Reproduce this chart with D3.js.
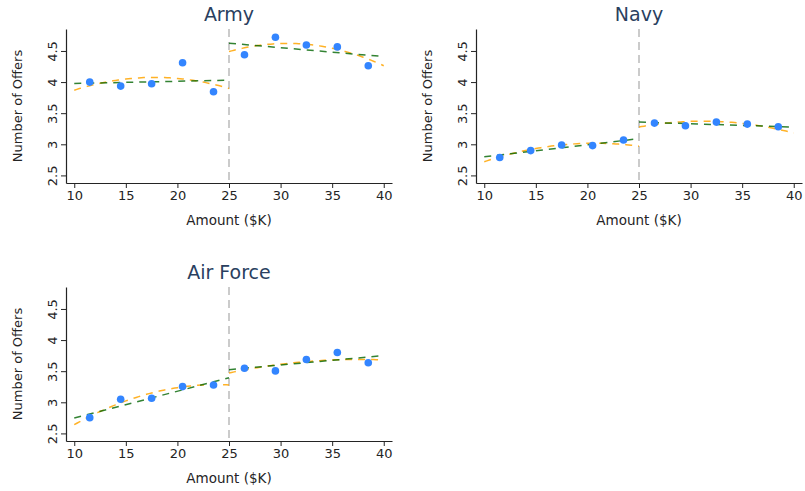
<!DOCTYPE html>
<html>
<head>
<meta charset="utf-8">
<script src="https://cdn.jsdelivr.net/npm/d3@7"></script>
<style>
  html, body { margin: 0; padding: 0; background: #fff; }
  svg { display: block; font-family: "DejaVu Sans", Verdana, sans-serif; }
</style>
</head>
<body>
<svg id="chart" width="805" height="491"></svg>
<script>
// ---- data ----
const panelNames = ["Army", "Navy", "Air Force"];
const bins = [11.5, 14.5, 17.5, 20.5, 23.5, 26.5, 29.5, 32.5, 35.5, 38.5];
const armyOffers    = [4.00, 3.935, 3.973, 4.31, 3.844, 4.44, 4.72, 4.597, 4.565, 4.263];
const navyOffers    = [2.787, 2.899, 2.989, 2.979, 3.069, 3.341, 3.299, 3.357, 3.325, 3.283];
const airForceOffers= [2.753, 3.048, 3.064, 3.252, 3.279, 3.548, 3.505, 3.688, 3.80, 3.635];

// linear fit values at segment ends: [left@10, left@25, right@25, right@40]
const armyLinear     = [3.978, 4.03, 4.624, 4.41];
const navyLinear     = [2.80, 3.09, 3.357, 3.277];
const airForceLinear = [2.748, 3.393, 3.525, 3.75];

// quadratic fit values at segment start, middle, end: left (10,17.5,25), right (25,32.5,40)
const armyQuadL = [3.87, 4.075, 3.898],  armyQuadR = [4.49, 4.607, 4.263];
const navyQuadL = [2.72, 2.99, 2.97],    navyQuadR = [3.277, 3.368, 3.181];
const airForceQuadL = [2.64, 3.15, 3.28], airForceQuadR = [3.472, 3.654, 3.681];

const cutoff = 25;
const xTicks = [10, 15, 20, 25, 30, 35, 40];
const yTicks = [2.5, 3, 3.5, 4, 4.5];
const xDomain = [9.2, 40.8];
const yDomain = [2.378, 4.853];
const xTitle = "Amount ($K)";
const yTitle = "Number of Offers";

const panels = [
  { name: panelNames[0], offers: armyOffers, lin: armyLinear, qL: armyQuadL, qR: armyQuadR, left: 66, top: 29 },
  { name: panelNames[1], offers: navyOffers, lin: navyLinear, qL: navyQuadL, qR: navyQuadR, left: 476, top: 29 },
  { name: panelNames[2], offers: airForceOffers, lin: airForceLinear, qL: airForceQuadL, qR: airForceQuadR, left: 66, top: 287 }
];

const PW = 326, PH = 154;
const svg = d3.select("#chart");
const axisColor = "#242424";

function quadPoints(vals, x0, x1) {
  const xm = (x0 + x1) / 2, h = (x1 - x0) / 2;
  const pts = [];
  for (let i = 0; i <= 60; i++) {
    const x = x0 + (x1 - x0) * i / 60;
    const t = (x - xm) / h;
    const y = vals[1] + t * (vals[2] - vals[0]) / 2 + t * t * (vals[0] - 2 * vals[1] + vals[2]) / 2;
    pts.push([x, y]);
  }
  return pts;
}

panels.forEach(p => {
  const g = svg.append("g").attr("transform", `translate(${p.left},${p.top})`);
  const x = d3.scaleLinear().domain(xDomain).range([0, PW]);
  const y = d3.scaleLinear().domain(yDomain).range([PH, 0]);
  const line = d3.line().x(d => x(d[0])).y(d => y(d[1]));

  // cutoff
  g.append("line")
    .attr("x1", x(cutoff)).attr("x2", x(cutoff))
    .attr("y1", 0).attr("y2", PH)
    .attr("stroke", "#bbbbbb").attr("stroke-width", 1.5)
    .attr("stroke-dasharray", "8,5");

  // quadratic fits (orange)
  [[p.qL, 10, cutoff], [p.qR, cutoff, 40]].forEach(([v, a, b]) => {
    g.append("path").attr("d", line(quadPoints(v, a, b)))
      .attr("fill", "none").attr("stroke", "#ffa500").attr("stroke-width", 1.5)
      .attr("stroke-opacity", 0.85).attr("stroke-dasharray", "7,6");
  });
  // linear fits (green)
  [[[10, p.lin[0]], [cutoff, p.lin[1]]], [[cutoff, p.lin[2]], [40, p.lin[3]]]].forEach(seg => {
    g.append("path").attr("d", line(seg))
      .attr("fill", "none").attr("stroke", "#006400").attr("stroke-width", 1.5)
      .attr("stroke-opacity", 0.8).attr("stroke-dasharray", "7,6");
  });

  // points
  g.selectAll("circle.pt").data(bins.map((b, i) => [b, p.offers[i]])).enter()
    .append("circle").attr("class", "pt")
    .attr("cx", d => x(d[0])).attr("cy", d => y(d[1])).attr("r", 3.8)
    .attr("fill", "#3385ff");

  // x axis
  const xa = g.append("g").attr("transform", `translate(0,${PH})`)
    .call(d3.axisBottom(x).tickValues(xTicks).tickSize(5).tickSizeOuter(0).tickPadding(3));
  xa.select(".domain").attr("stroke", axisColor).attr("stroke-width", 1.2);
  xa.selectAll(".tick line").attr("stroke", axisColor);
  xa.selectAll(".tick text").attr("fill", axisColor).style("font-size", "13px")
    .style("font-family", "DejaVu Sans, sans-serif");

  // y axis
  const ya = g.append("g")
    .call(d3.axisLeft(y).tickValues(yTicks).tickSize(5).tickSizeOuter(0).tickFormat(d3.format("")));
  ya.select(".domain").attr("stroke", axisColor).attr("stroke-width", 1.2);
  ya.selectAll(".tick line").attr("stroke", axisColor);
  ya.selectAll(".tick text").attr("fill", axisColor).style("font-size", "13px")
    .style("font-family", "DejaVu Sans, sans-serif")
    .attr("x", null).attr("dy", null)
    .attr("transform", "translate(-9,0) rotate(-90)")
    .attr("text-anchor", "middle");

  // titles
  g.append("text").attr("x", PW / 2).attr("y", -8)
    .attr("text-anchor", "middle").attr("fill", "#2a3f5f")
    .style("font-size", "19px").text(p.name);
  g.append("text").attr("x", PW / 2).attr("y", PH + 42)
    .attr("text-anchor", "middle").attr("fill", axisColor)
    .style("font-size", "13.5px").text(xTitle);
  g.append("text")
    .attr("transform", `translate(-44,${PH / 2}) rotate(-90)`)
    .attr("text-anchor", "middle").attr("fill", axisColor)
    .style("font-size", "13px").text(yTitle);
});
</script>
</body>
</html>
